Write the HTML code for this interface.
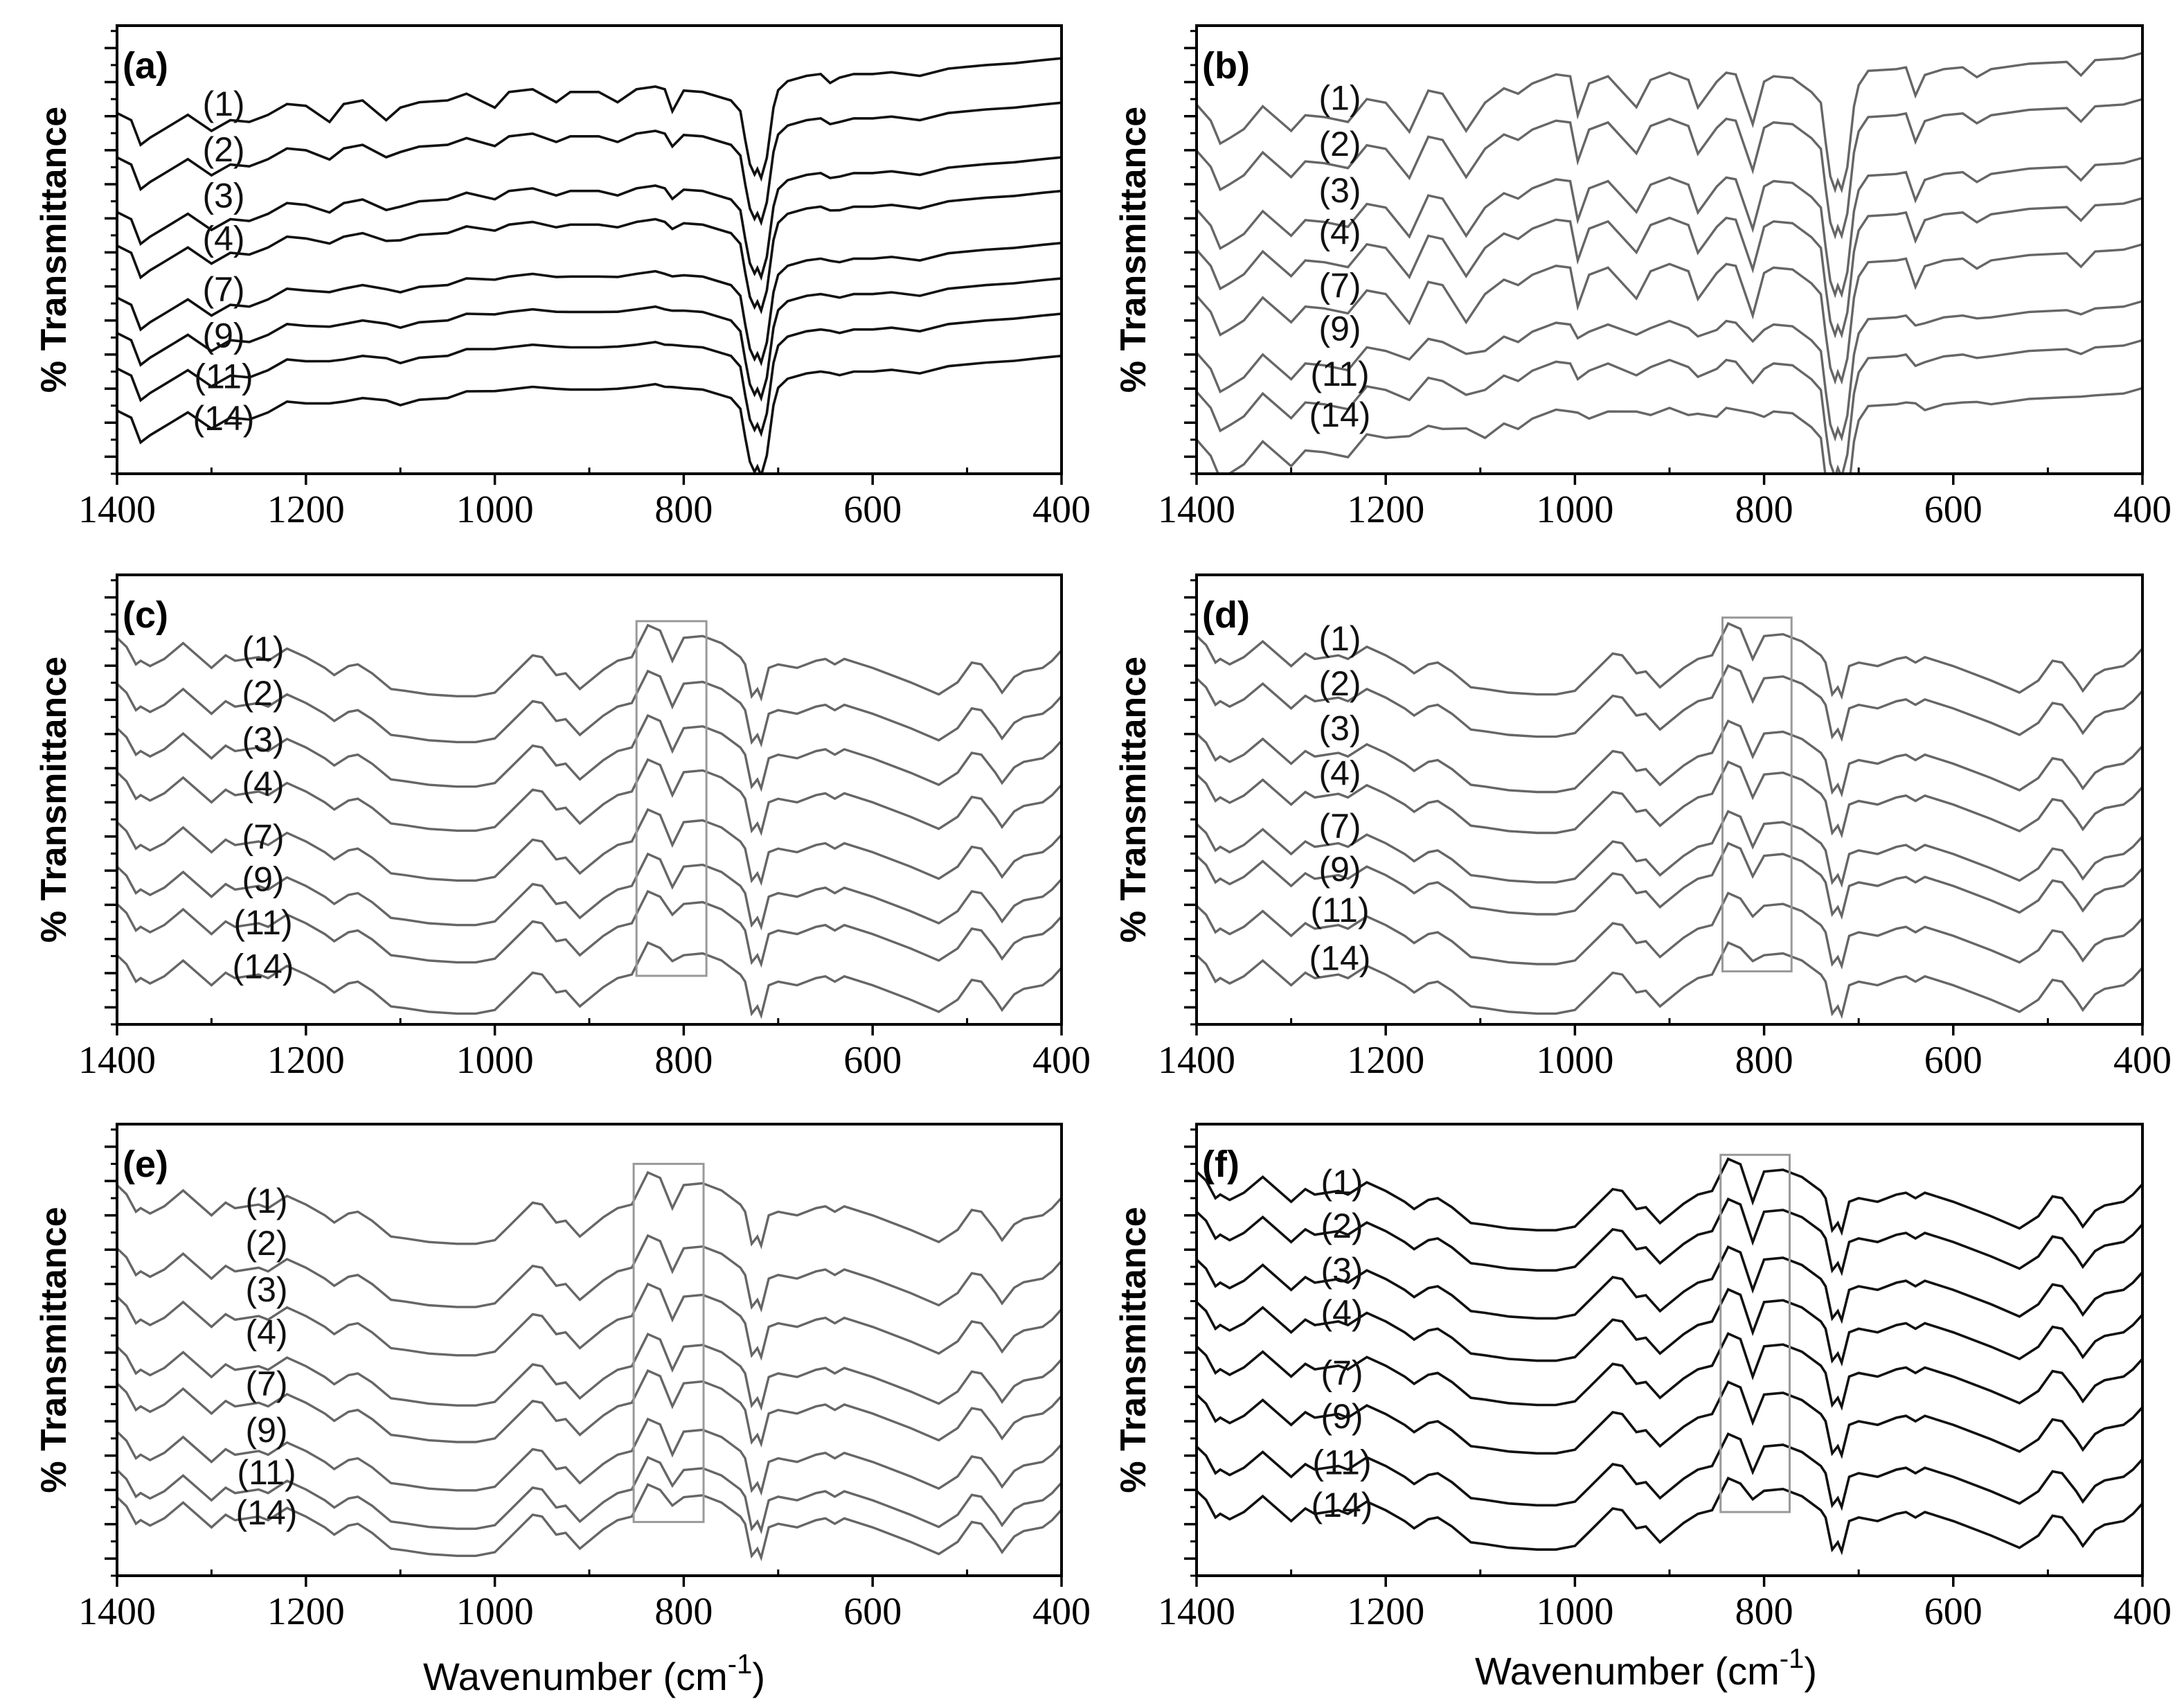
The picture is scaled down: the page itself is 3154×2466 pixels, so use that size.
<!DOCTYPE html>
<html><head><meta charset="utf-8">
<style>
html,body{margin:0;padding:0;background:#fff;}
svg{display:block;}
.tick{font-family:"Liberation Serif",serif;font-size:56px;fill:#000;}
.ylab{font-family:"Liberation Sans",sans-serif;font-weight:bold;font-size:52px;fill:#000;}
.plab{font-family:"Liberation Sans",sans-serif;font-weight:bold;font-size:54px;fill:#000;}
.slab{font-family:"Liberation Sans Narrow","Liberation Sans",sans-serif;font-size:50px;fill:#111;}
.xt{font-family:"Liberation Sans",sans-serif;font-size:56px;fill:#000;}
</style></head>
<body>
<svg id="fig" xmlns="http://www.w3.org/2000/svg" width="3154" height="2466" viewBox="0 0 3154 2466">
<rect x="0" y="0" width="3154" height="2466" fill="#fff"/>
<text class="xt" x="858" y="2440" text-anchor="middle">Wavenumber (cm<tspan font-size="40" dy="-24">-1</tspan><tspan dy="24">)</tspan></text>
<text class="xt" x="2377" y="2432" text-anchor="middle">Wavenumber (cm<tspan font-size="40" dy="-24">-1</tspan><tspan dy="24">)</tspan></text>
</svg>
<script>
// ---------- data ----------
const seriesLabels = ["(1)","(2)","(3)","(4)","(7)","(9)","(11)","(14)"];
const xTickLabels = [1400,1200,1000,800,600,400];
const xMinorTicks = [1300,1100,900,700,500];

// panel (a)
const aWaves = [1400,1385,1375,1365,1350,1325,1300,1280,1260,1240,1220,1200,1175,1160,1140,1115,1100,1080,1050,1030,1000,985,960,935,920,890,870,850,830,820,812,800,780,750,740,735,730,725,722,718,712,705,700,690,670,655,645,635,620,600,580,550,520,480,450,420,400];
const aBase  = [0,-1.6,-7.1,-5.5,-3.6,-0.4,-4,-1.6,-2,-0.4,2,1.6,1.8,2,2.8,2.5,1.2,2.4,2.8,4.3,4.5,4.7,5.3,5,4.7,4.7,5,5.3,5.9,5.3,5.5,5,4.7,2.8,0.4,-5.9,-11.4,-13.7,-12.5,-14.5,-10,1.2,5.1,7.1,8.3,8.7,8.5,7.9,8.7,8.7,9.1,8.3,9.9,10.7,11.1,11.8,12.2];
const aBands = [0,0,0,0,0,0,0,0,0,0,0,0,-3.8,0,0,-4.1,0,0,0,0,-3.3,0,0,-2.6,0,0,-2.6,0,0,0,-5.1,0,0,0,0,0,0,0,0,0,0,0,0,0,0,0,-1.8,0,0,0,0,0,0,0,0,0,0];
const aOffsets = [80.5,70.6,58.4,50.9,39.3,31.4,23.5,14.1];
const aBandScale = [1,0.6,0.5,0.35,0.15,0.1,0.05,0.05];
const aLabelY = [82.7,72.5,62.2,52.6,41.3,31,21.9,12.5];

// panel (b)
const bWaves = [1400,1385,1375,1365,1350,1330,1300,1285,1265,1240,1220,1200,1175,1155,1140,1115,1095,1075,1060,1045,1020,1005,997,985,965,935,920,900,880,870,850,840,830,812,800,790,770,750,740,735,730,725,722,718,712,705,700,690,660,650,640,630,610,590,575,560,520,480,465,450,420,400];
const bBase  = [0,-3.6,-8.7,-7.5,-5.5,-0.4,-5.9,-2.4,-2.8,-3.9,1.2,0.4,1,3.1,2.4,2.8,0.4,3.6,2.4,4.7,6.7,6.3,6.3,4.7,6.3,6.5,5.5,7.1,5.5,6,5.1,7.1,6.7,6.3,5.1,6.3,5.9,2.8,0.4,-8.3,-16,-19,-17,-19,-14,-0.4,4.3,7.5,7.9,8.3,8.3,6.6,7.9,8.3,8.5,7.9,9.1,9.5,9.7,9.9,10.3,11.5];
const bBands = [0,0,0,0,0,0,0,0,0,0,0,0,-7.1,0,0,-8.7,0,0,0,0,0,0,-8.7,0,0,-7.1,0,0,0,-6.7,0,0,0,-10.7,0,0,0,0,0,0,0,0,0,0,0,0,0,0,0,0,-6.3,0,0,0,-2.4,0,0,0,-3.2,0,0,0];
const bOffsets = [82.4,72.1,59,50,39.7,27,18.3,7.6];
const bBandScale = [1,1,1,1,1,0.35,0.4,0.03];
const bLabelY = [84,73.7,63.4,54,42.1,32.5,22.4,13.3];

// panels (c)-(f) share band structure
const cfWaves = [1400,1390,1380,1375,1365,1350,1330,1300,1285,1275,1250,1240,1220,1200,1180,1170,1155,1145,1130,1110,1095,1070,1040,1020,1000,985,960,950,935,925,910,885,870,855,838,825,812,800,780,760,740,735,728,722,718,710,700,680,660,650,640,630,600,560,530,510,495,485,470,463,450,440,420,410,400];
const cfBase  = [0,-2,-5.9,-5.1,-6.3,-4.7,-1.2,-6.7,-3.9,-5.1,-4.3,-5.1,-2.4,-4.3,-6.7,-8.3,-6.3,-5.9,-7.9,-11.4,-11.8,-12.6,-13,-13,-12.2,-9.1,-3.9,-4.3,-8.3,-7.9,-11.4,-7.1,-5.1,-4.3,2.8,1.6,0.3,0,0.4,-1.2,-4.3,-5.9,-13,-11.4,-13.4,-6.7,-5.9,-6.7,-5.1,-4.7,-5.9,-4.7,-6.7,-9.9,-12.6,-9.9,-5.5,-5.9,-9.9,-12.2,-8.7,-7.5,-6.7,-5.1,-2.8];
const cfBands = [0,0,0,0,0,0,0,0,0,0,0,0,0,0,0,0,0,0,0,0,0,0,0,0,0,0,0,0,0,0,0,0,0,0,0,0,-5.4,0,0,0,0,0,0,0,0,0,0,0,0,0,0,0,0,0,0,0,0,0,0,0,0,0,0,0,0];
const cOffsets = [86,75.8,65.9,56.1,45,35.1,26.8,15.4];
const dOffsets = [86.4,77,64.7,55.6,44.6,37.5,26.4,15.4];
const eOffsets = [86.5,72.5,61.8,50.7,42.6,31.9,23.4,17.4];
const fOffsets = [89.5,80.6,70,60.6,50.8,40.1,28.6,18.8];
const cBandScale = [1,1,1,1,1,0.9,0.5,0.3];
const dBandScale = [1,1,1,1,1,0.9,0.5,0.3];
const eBandScale = [1,1,1,1,1,1,0.7,0.4];
const fBandScale = [1.3,1.3,1.3,1.3,1.3,1.2,1.1,0.4];
const cLabelY = [83.7,73.8,63.5,53.6,41.8,32.4,22.8,13];
const dLabelY = [86,76,66,56,44.2,34.7,25.6,14.9];
const eLabelY = [83.1,73.8,63.5,54.1,42.6,32.4,23,14.1];
const fLabelY = [87.3,77.6,67.8,58.4,45,35.4,25.2,15.8];
// highlight boxes: [wave-high, wave-low, value-top, value-bottom]
const cHighlight = [850,776,89.7,10.8];
const dHighlight = [844,771,90.5,11.8];
const eHighlight = [853,779,91.2,11.9];
const fHighlight = [846,773,93.2,14.1];

// ---------- drawing ----------
const NS = "http://www.w3.org/2000/svg";
const svg = document.getElementById('fig');
function mk(tag, attrs, parent){
  const e = document.createElementNS(NS, tag);
  for (const k in attrs) e.setAttribute(k, attrs[k]);
  (parent||svg).appendChild(e);
  return e;
}
const panels = [
  {id:'a', L:169, R:1533, T:37,  B:684,  waves:aWaves, base:aBase, bands:aBands, off:aOffsets, sc:aBandScale, ly:aLabelY, lx:154, color:'#111', lw:3.6, hl:null},
  {id:'b', L:1728,R:3094, T:37,  B:684,  waves:bWaves, base:bBase, bands:bBands, off:bOffsets, sc:bBandScale, ly:bLabelY, lx:207, color:'#666', lw:3.4, hl:null},
  {id:'c', L:169, R:1533, T:830, B:1479, waves:cfWaves, base:cfBase, bands:cfBands, off:cOffsets, sc:cBandScale, ly:cLabelY, lx:211, color:'#666', lw:3.4, hl:cHighlight},
  {id:'d', L:1728,R:3094, T:830, B:1479, waves:cfWaves, base:cfBase, bands:cfBands, off:dOffsets, sc:dBandScale, ly:dLabelY, lx:207, color:'#666', lw:3.4, hl:dHighlight},
  {id:'e', L:169, R:1533, T:1623,B:2275, waves:cfWaves, base:cfBase, bands:cfBands, off:eOffsets, sc:eBandScale, ly:eLabelY, lx:216, color:'#666', lw:3.4, hl:eHighlight},
  {id:'f', L:1728,R:3094, T:1623,B:2275, waves:cfWaves, base:cfBase, bands:cfBands, off:fOffsets, sc:fBandScale, ly:fLabelY, lx:210, color:'#111', lw:3.6, hl:fHighlight}
];
panels.forEach(p => {
  const W = p.R - p.L, H = p.B - p.T;
  const xs = w => p.L + (1400 - w) / 1000 * W;
  const ys = v => p.B - v / 100 * H;
  const g = mk('g', {});
  
  
  const cp = mk('clipPath', {id:'clip-' + p.id}, g);
  mk('rect', {x:p.L, y:p.T, width:W, height:H}, cp);
  // curves
  const cg = mk('g', {'clip-path':'url(#clip-' + p.id + ')'}, g);
  p.off.forEach((o, i) => {
    const pts = p.waves.map((w, k) => xs(w).toFixed(1) + ',' + ys(o + p.base[k] + p.sc[i] * p.bands[k]).toFixed(1)).join(' ');
    const pl = mk('polyline', {points:pts, fill:'none', stroke:p.color, 'stroke-width':p.lw, 'stroke-linejoin':'miter'}, cg);
    
    
  });
  // highlight box
  if (p.hl) {
    const r = mk('rect', {x:xs(p.hl[0]), y:ys(p.hl[2]), width:xs(p.hl[1]) - xs(p.hl[0]), height:ys(p.hl[3]) - ys(p.hl[2]), fill:'none', stroke:'#999', 'stroke-width':3}, g);
    
    
  }
  // frame
  const fr = mk('rect', {x:p.L, y:p.T, width:W, height:H, fill:'none', stroke:'#000', 'stroke-width':4}, g);
  
  
  // y ticks
  for (let k = 0; k < 13; k++) {
    const v = 3.8 + 7.6 * k;
    if (v < 100) mk('line', {x1:p.L - 18, x2:p.L, y1:ys(v), y2:ys(v), stroke:'#000', 'stroke-width':3.5}, g);
    const vm = v + 3.8;
    if (vm < 100) mk('line', {x1:p.L - 9, x2:p.L, y1:ys(vm), y2:ys(vm), stroke:'#000', 'stroke-width':3}, g);
  }
  mk('line', {x1:p.L - 9, x2:p.L, y1:p.B, y2:p.B, stroke:'#000', 'stroke-width':3}, g);
  // x ticks
  xTickLabels.forEach(t => {
    mk('line', {x1:xs(t), x2:xs(t), y1:p.B, y2:p.B + 16, stroke:'#000', 'stroke-width':3.5}, g);
    const tx = mk('text', {x:xs(t), y:p.B + 70, 'text-anchor':'middle', class:'tick'}, g);
    tx.textContent = t;
    
    
  });
  xMinorTicks.forEach(t => {
    mk('line', {x1:xs(t), x2:xs(t), y1:p.B - 9, y2:p.B, stroke:'#000', 'stroke-width':3}, g);
  });
  // panel letter
  const pl = mk('text', {x:p.L + 8, y:p.T + 76, class:'plab'}, g);
  pl.textContent = '(' + p.id + ')';
  
  
  // y label
  const yc = (p.T + p.B) / 2, xl = p.L - 92;
  const yl = mk('text', {x:xl, y:yc, class:'ylab', 'text-anchor':'middle', transform:'rotate(-90 ' + xl + ' ' + yc + ')', dy:'18'}, g);
  yl.textContent = '% Transmittance';
  
  
  // series labels
  p.ly.forEach((v, i) => {
    const t = mk('text', {x:p.L + p.lx, y:ys(v) + 18, 'text-anchor':'middle', class:'slab'}, g);
    t.textContent = seriesLabels[i];
    
    
  });
});
</script>
</body></html>
